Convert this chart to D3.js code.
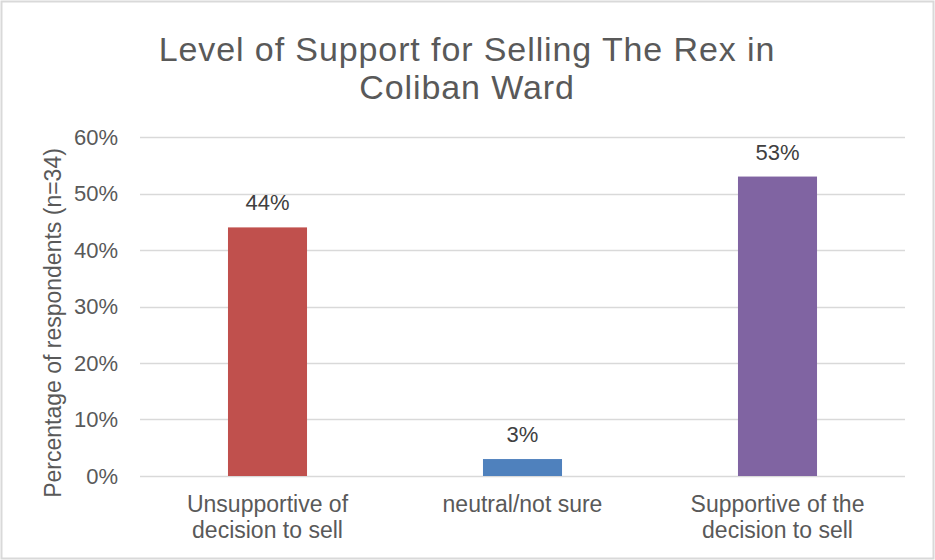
<!DOCTYPE html>
<html><head><meta charset="utf-8">
<script src="https://cdn.jsdelivr.net/npm/d3@7"></script>
<style>body{margin:0;background:#fff;}svg{display:block;font-family:"Liberation Sans",Arial,sans-serif;}</style>
</head><body>
<script>
const categories = [["Unsupportive of","decision to sell"],["neutral/not sure"],["Supportive of the","decision to sell"]];
const values = [0.44, 0.03, 0.53];
const labels = ["44%","3%","53%"];
const colors = ["#C0504D","#4F81BD","#8064A2"];
const yTicks = [0,0.1,0.2,0.3,0.4,0.5,0.6];
const titleLines = ["Level of Support for Selling The Rex in","Coliban Ward"];
const yTitle = "Percentage of respondents (n=34)";

const W=935,H=560;
const svg=d3.select("body").append("svg").attr("width",W).attr("height",H);
svg.append("rect").attr("x",1.5).attr("y",1.5).attr("width",W-3).attr("height",H-3).attr("fill","#fff").attr("stroke","#d9d9d9").attr("stroke-width",2);

const x=d3.scaleBand().domain(d3.range(categories.length)).range([140,905]).paddingInner(0.69).paddingOuter(0.345);
const y=d3.scaleLinear().domain([0,0.6]).range([476,137]);

// gridlines
svg.append("g").selectAll("line").data(yTicks).join("line")
 .attr("x1",140).attr("x2",905).attr("y1",d=>Math.round(y(d))+0.5).attr("y2",d=>Math.round(y(d))+0.5)
 .attr("stroke","#d9d9d9").attr("stroke-width",1.5);

// y axis labels
const ya=svg.append("g").attr("transform","translate(118,0)").call(d3.axisLeft(y).tickValues(yTicks).tickFormat(d3.format(".0%")).tickSize(0).tickPadding(0));
ya.select(".domain").remove();
ya.selectAll("text").attr("fill","#595959").attr("font-size",22).attr("font-family","Liberation Sans, Arial, sans-serif");

// bars
svg.append("g").selectAll("rect").data(values).join("rect")
 .attr("x",(d,i)=>x(i)).attr("width",x.bandwidth()).attr("y",d=>y(d)).attr("height",d=>y(0)-y(d)).attr("fill",(d,i)=>colors[i]);

// data labels
svg.append("g").selectAll("text").data(values).join("text")
 .attr("x",(d,i)=>x(i)+x.bandwidth()/2).attr("y",d=>y(d)-17).attr("text-anchor","middle")
 .attr("font-size",22).attr("fill","#404040").text((d,i)=>labels[i]);

// category labels
const cg=svg.append("g");
categories.forEach((lines,i)=>{
  const t=cg.append("text").attr("text-anchor","middle").attr("font-size",23).attr("fill","#595959");
  lines.forEach((l,j)=>t.append("tspan").attr("x",x(i)+x.bandwidth()/2).attr("y",512+j*26).text(l));
});

// title
titleLines.forEach((l,j)=>svg.append("text").attr("text-anchor","middle").attr("font-size",34)
  .attr("letter-spacing",0.9).attr("fill","#595959").attr("x",467).attr("y",61+j*38).text(l));

// y title
svg.append("text").attr("transform","translate(61,323) rotate(-90)").attr("text-anchor","middle")
 .attr("font-size",23).attr("fill","#595959").text(yTitle);
</script>
</body></html>
